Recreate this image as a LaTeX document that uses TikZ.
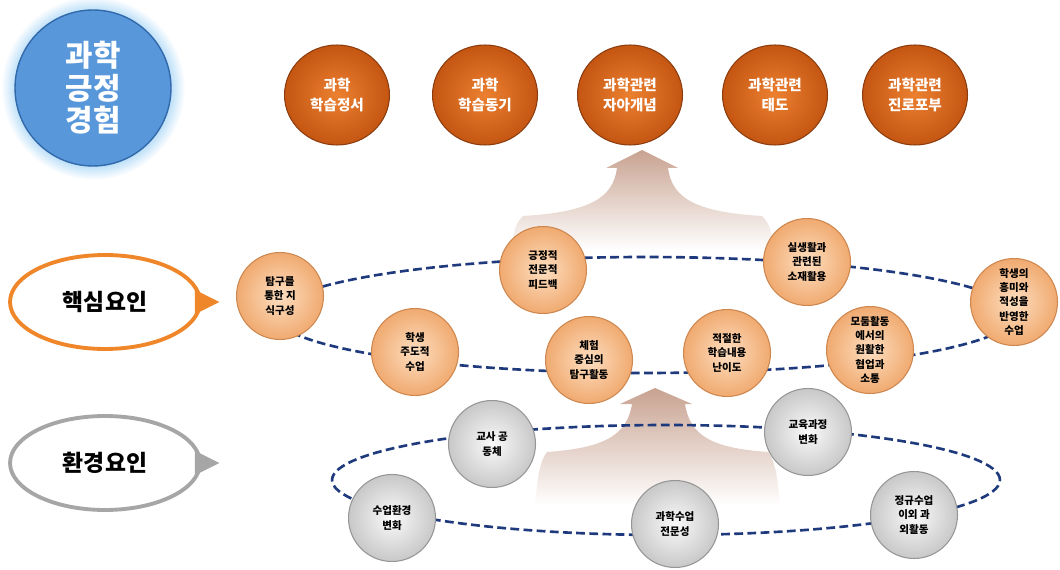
\documentclass[tikz,border=0pt]{standalone}
\usepackage{fontspec}
\setmainfont{Noto Sans CJK KR}
\usetikzlibrary{shapes.geometric}

\definecolor{peBlue}{RGB}{88,152,218}
\definecolor{peBlueRim}{RGB}{50,105,170}
\definecolor{peHalo}{RGB}{185,222,248}
\definecolor{peOrangeIn}{RGB}{236,128,48}
\definecolor{peOrangeOut}{RGB}{196,86,18}
\definecolor{peOrangeRim}{RGB}{140,60,15}
\definecolor{pePeachIn}{RGB}{253,222,192}
\definecolor{pePeachOut}{RGB}{240,170,112}
\definecolor{pePeachRim}{RGB}{205,135,80}
\definecolor{peGreyIn}{RGB}{250,250,250}
\definecolor{peGreyOut}{RGB}{200,200,200}
\definecolor{peGreyRim}{RGB}{150,150,150}
\definecolor{peRing}{RGB}{30,58,125}
\definecolor{peTagOrange}{RGB}{240,134,42}
\definecolor{peTagGrey}{RGB}{166,166,166}
\definecolor{peLift}{RGB}{200,162,144}

\pgfdeclareradialshading{pehalo}{\pgfpoint{0bp}{0bp}}{%
  color(0bp)=(peHalo); color(21bp)=(peHalo); color(25bp)=(white); color(50bp)=(white)}

\tikzset{
    pe title/.style={circle, minimum size=3.12cm, inner sep=0pt,
                     fill=peBlue, draw=peBlueRim, thick, text=white,
                     align=center, font=\fontsize{17}{18.5}\selectfont\bfseries},
    pe outcome/.style={ellipse, minimum width=2.1cm, minimum height=2.0cm,
                       inner sep=0pt, inner color=peOrangeIn, outer color=peOrangeOut,
                       draw=peOrangeRim, semithick, text=white, align=center,
                       font=\fontsize{8.3}{11.3}\selectfont\bfseries},
    pe core/.style={circle, minimum size=1.74cm, inner sep=0pt,
                    inner color=pePeachIn, outer color=pePeachOut,
                    draw=pePeachRim, semithick, align=center,
                    font=\fontsize{6}{8.2}\selectfont\bfseries},
    pe env/.style={pe core, inner color=peGreyIn, outer color=peGreyOut,
                   draw=peGreyRim},
    pe ring/.style={ellipse, draw=peRing, line width=1.5pt,
                    dash pattern=on 5pt off 2.5pt, inner sep=0pt},
    pe tag/.style={ellipse, minimum width=3.8cm, minimum height=1.88cm,
                   fill=white, line width=2.2pt,
                   font=\fontsize{13}{15}\selectfont\bfseries},
    pe lift/.style={top color=peLift, middle color=peLift!55, bottom color=white},
}

\begin{document}
\begin{tikzpicture}[x=0.02cm, y=-0.02cm]
    \useasboundingbox (0,0) rectangle (1060,570);
    % rising arrows behind the rings
    \shade[pe lift] (642,150) -- (678,168) -- (668,168)
        .. controls (672,198) and (695,212) .. (762,216)
        .. controls (772,225) and (772,240) .. (775,250)
        -- (510,250)
        .. controls (513,240) and (513,225) .. (523,216)
        .. controls (590,212) and (613,198) .. (617,168) -- (606,168) -- cycle;
    \shade[pe lift] (655,388) -- (692,404) -- (685,404)
        .. controls (690,436) and (712,448) .. (768,452)
        .. controls (778,465) and (778,490) .. (780,505)
        -- (535,505)
        .. controls (537,490) and (537,465) .. (547,452)
        .. controls (603,448) and (627,436) .. (632,404) -- (620,404) -- cycle;

    % dashed rings
    \node[pe ring, minimum width=14.8cm, minimum height=2.32cm] (corering) at (645,315) {};
    \node[pe ring, minimum width=13.36cm, minimum height=2.2cm] (envring) at (666,480) {};

    % title
    \shade[shading=pehalo] (93,88) circle (92);
    \node[pe title] (title) at (93,88) {과학\\긍정\\경험};

    % outcomes
    \node[pe outcome] (out1) at (337,95) {과학\\학습정서};
    \node[pe outcome] (out2) at (485,95) {과학\\학습동기};
    \node[pe outcome] (out3) at (630,95) {과학관련\\자아개념};
    \node[pe outcome] (out4) at (775,95) {과학관련\\태도};
    \node[pe outcome] (out5) at (915,95) {과학관련\\진로포부};

    % core factors
    \node[pe core] (core1) at (280,296) {탐구를\\통한 지\\식구성};
    \node[pe core] (core2) at (543,270) {긍정적\\전문적\\피드백};
    \node[pe core] (core3) at (807,262) {실생활과\\관련된\\소재활용};
    \node[pe core] (core4) at (1014,302) {학생의\\흥미와\\적성을\\반영한\\수업};
    \node[pe core] (core5) at (415,352) {학생\\주도적\\수업};
    \node[pe core] (core6) at (589,360) {체험\\중심의\\탐구활동};
    \node[pe core] (core7) at (727,353) {적절한\\학습내용\\난이도};
    \node[pe core] (core8) at (870,350) {모둠활동\\에서의\\원활한\\협업과\\소통};

    % environment factors
    \node[pe env] (env1) at (492,444) {교사 공\\동체};
    \node[pe env] (env2) at (808,432) {교육과정\\변화};
    \node[pe env] (env3) at (392,518) {수업환경\\변화};
    \node[pe env] (env4) at (675,524) {과학수업\\전문성};
    \node[pe env] (env5) at (914,515) {정규수업\\이외 과\\외활동};

    % side tags
    \node[pe tag, draw=peTagOrange] (coretag) at (105,302) {핵심요인};
    \fill[peTagOrange] ([xshift=-4pt,yshift=7pt]coretag.east) -- ([xshift=10pt]coretag.east)
        -- ([xshift=-4pt,yshift=-7pt]coretag.east) -- cycle;
    \node[pe tag, draw=peTagGrey] (envtag) at (105,463) {환경요인};
    \fill[peTagGrey] ([xshift=-4pt,yshift=7pt]envtag.east) -- ([xshift=10pt]envtag.east)
        -- ([xshift=-4pt,yshift=-7pt]envtag.east) -- cycle;
\end{tikzpicture}
\end{document}
